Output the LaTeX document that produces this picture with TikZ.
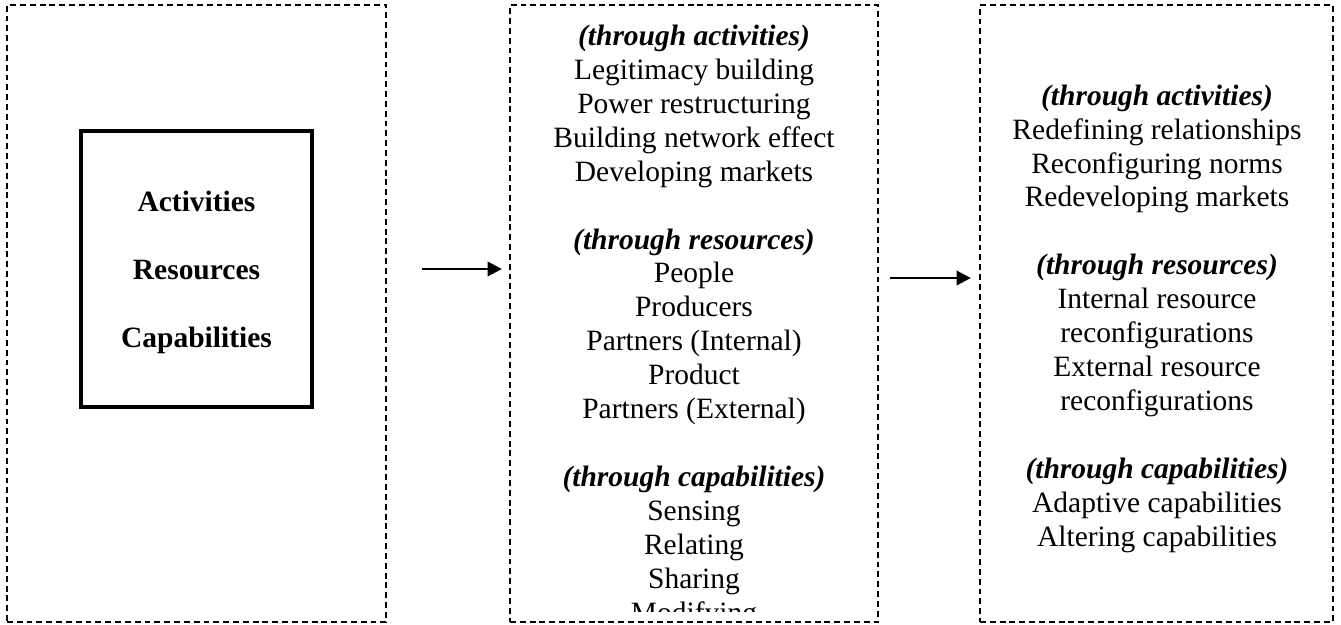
\documentclass[tikz,border=0pt]{standalone}
\usepackage{fontspec}
\setmainfont{Liberation Serif}
\usetikzlibrary{arrows.meta}
\tikzstyle{db}=[shape=rectangle,
                draw=black,
                line width=1pt,
                dash pattern=on 2.4pt off 1.6pt,
                minimum height=251.1pt,
                inner sep=0pt]
\tikzstyle{sb}=[shape=rectangle,
                draw=black,
                line width=1.3pt,
                minimum width=94pt,
                minimum height=112.3pt]
\tikzstyle{tx}=[align=center,
                anchor=base,
                inner sep=0pt,
                font=\fontsize{12}{13.8}\selectfont]

\begin{document}
\begin{tikzpicture}[x=0.407pt,y=-0.407pt,>={Triangle[length=5.8pt,width=5.8pt]},line width=1.1pt]
\useasboundingbox (0,0) rectangle (1341,624);

% dashed frames
\node[db, minimum width=154.3pt] (ctx) at (196.5,313.5) {};
\node[db, minimum width=149.8pt] (mid) at (694,313.5)   {};
\node[db, minimum width=143.7pt] (out) at (1156.5,313.5) {};

% first frame: the three sources (placed by the last baseline)
\node[sb] (src) at (196.5,269) {};
\node[tx, font=\fontsize{12}{13.8}\selectfont\bfseries] (srctxt) at (196.5,347)
  {Activities\\[13.8pt] Resources\\[13.8pt] Capabilities};

% second frame (text runs past the frame and is cut off)
\begin{scope}
\clip (mid.north west) rectangle (878,611);
\node[tx] (how) at (694,622)
  {\textbf{\textit{(through activities)}}\\
   Legitimacy building\\
   Power restructuring\\
   Building network effect\\
   Developing markets\\[13.8pt]
   \textbf{\textit{(through resources)}}\\
   People\\
   Producers\\
   Partners (Internal)\\
   Product\\
   Partners (External)\\[13.8pt]
   \textbf{\textit{(through capabilities)}}\\
   Sensing\\
   Relating\\
   Sharing\\
   Modifying};
\end{scope}

% third frame
\node[tx] (res) at (1157,546)
  {\textbf{\textit{(through activities)}}\\
   Redefining relationships\\
   Reconfiguring norms\\
   Redeveloping markets\\[13.8pt]
   \textbf{\textit{(through resources)}}\\
   Internal resource\\
   reconfigurations\\
   External resource\\
   reconfigurations\\[13.8pt]
   \textbf{\textit{(through capabilities)}}\\
   Adaptive capabilities\\
   Altering capabilities};

% arrows between frames
\coordinate (a1) at (422,269);
\coordinate (a2) at (890,278);
\draw[->, shorten >=2.8pt] (a1) -- (a1 -| mid.west);
\draw[->, shorten >=3.2pt] (a2) -- (a2 -| out.west);

\end{tikzpicture}
\end{document}
